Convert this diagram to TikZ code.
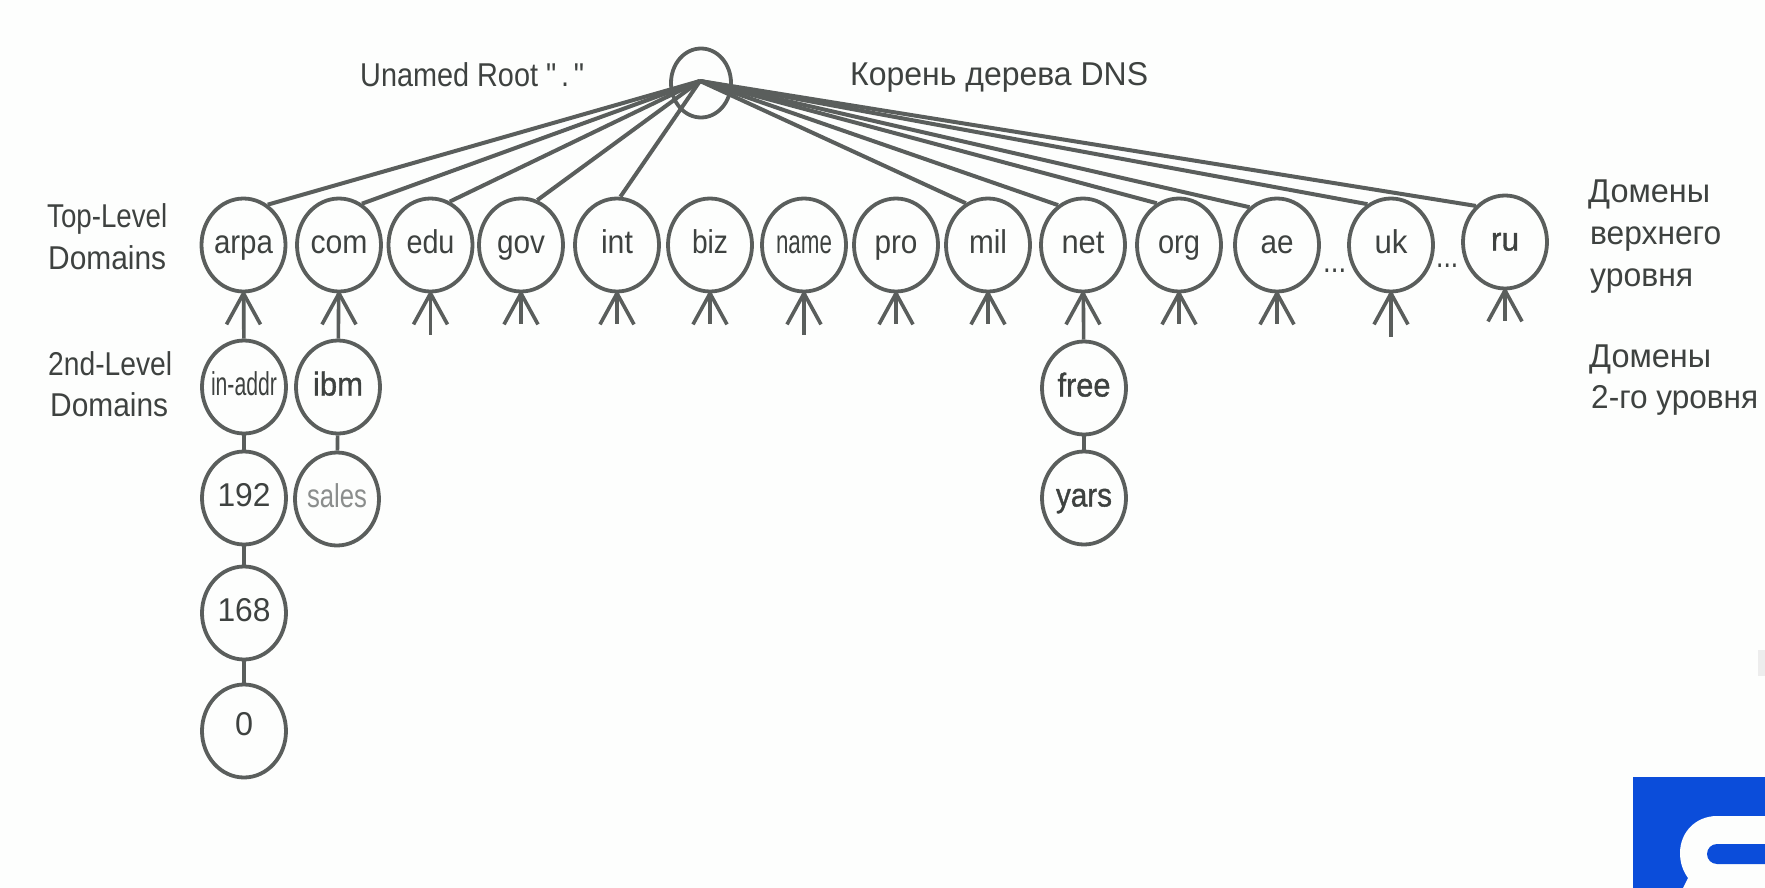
\documentclass[tikz,border=0pt]{standalone}
\usepackage{graphicx}
\usepackage{fontspec}
\setmainfont{Liberation Sans}
\newfontfamily\plainf{Liberation Sans}
\newfontfamily\medf[FakeBold=1.2]{Liberation Sans}
\usetikzlibrary{shapes.geometric}
\definecolor{ink}{HTML}{3E4240}
\definecolor{wire}{HTML}{5A5E5C}
\definecolor{paper}{HTML}{FDFEFD}
\definecolor{logoblue}{HTML}{0B4DDA}
\tikzset{
  dom/.style={ellipse,draw=wire,line width=3.8pt,minimum width=84pt,minimum height=93pt,inner sep=0pt,
     text=ink,font=\fontsize{33}{33}\selectfont,text height=17pt,text depth=0pt},
  wirel/.style={draw=wire,line width=3.6pt},
  fanl/.style={draw=wire,line width=4pt},
  lbl/.style={anchor=base west,inner sep=0pt,text=ink,font=\fontsize{33}{33}\selectfont},
}
\newcommand{\fit}[2]{\makebox[0pt]{\resizebox{#1pt}{\height}{#2}}}
\newcommand{\fitl}[2]{\resizebox{#1pt}{\height}{#2}}
\begin{document}
\begin{tikzpicture}[x=1pt,y=-1pt]
\useasboundingbox (0,0) rectangle (1765,888);
\fill[paper] (0,0) rectangle (1765,888);
% root
\node[dom,minimum width=60pt,minimum height=69pt] (root) at (701,83) {};
\coordinate (hub) at (700,81);
% top level
\node[dom] (arpa) at (243.5,245) {\fit{59}{arpa}};
\node[dom] (com) at (339,245) {\fit{57}{com}};
\node[dom] (edu) at (430.5,245) {\fit{48}{edu}};
\node[dom] (gov) at (521,245) {\fit{48}{gov}};
\node[dom] (int) at (617,245) {\fit{32}{int}};
\node[dom] (biz) at (710,245) {\fit{36}{biz}};
\node[dom] (name) at (804,245) {\fit{56}{name}};
\node[dom] (pro) at (896,245) {\fit{43}{pro}};
\node[dom] (mil) at (988,245) {\fit{38}{mil}};
\node[dom] (net) at (1083,245) {\fit{43}{net}};
\node[dom] (org) at (1179,245) {\fit{42}{org}};
\node[dom] (ae) at (1277,245) {\fit{33}{ae}};
\node[dom] (uk) at (1391,245) {\fit{33}{uk}};
\node[dom] (ru) at (1505,242) {\fit{28}{\medf ru}};
% lower levels
\node[dom] (inaddr) at (244,387) {\fit{66}{in-addr}};
\node[dom] (ibm) at (338,387) {\fit{50}{\medf ibm}};
\node[dom] (free) at (1084,388) {\fit{53}{\medf free}};
\node[dom] (n192) at (244,498) {\fit{53}{192}};
\node[dom,text=ink!60] (sales) at (337,499) {\fit{60}{sales}};
\node[dom] (yars) at (1084,498) {\fit{56}{\medf yars}};
\node[dom] (n168) at (244,613) {\fit{53}{168}};
\node[dom] (n0) at (244,731) {\fit{18}{\raisebox{4pt}{0}}};
% root fan
\foreach \n/\a in {arpa/59,com/61,edu/66,gov/70,int/86,mil/118,net/122,org/118,ae/126,uk/120,ru/129}
  \draw[fanl] (hub) -- (\n.\a);
% forks
\foreach \n in {arpa,com,edu,gov,int,biz,name,pro,mil,net,org,ae,uk,ru}{
  \draw[wirel] (\n.south) -- ++(-17,31);
  \draw[wirel] (\n.south) -- ++(17,31);
}
\foreach \n/\l in {edu/42,name/42,uk/44,gov/31,int/31,biz/31,pro/31,mil/31,org/31,ae/31,ru/31}
  \draw[wirel] (\n.south) -- ++(0,\l);
% vertical links
\draw[wirel] (inaddr) -- (arpa);
\draw[wirel] (ibm) -- (com);
\draw[wirel] (free) -- (net);
\draw[wirel] (n192) -- (inaddr);
\draw[wirel] (sales) -- (ibm);
\draw[wirel] (yars) -- (free);
\draw[wirel] (n168) -- (n192);
\draw[wirel] (n0) -- (n168);
% labels
\node[lbl] (lroot) at (360,87) {\fitl{224}{\plainf Unamed Root "\,.\,"}};
\node[lbl] (lrootru) at (850,86) {\fitl{298}{Корень дерева DNS}};
\node[lbl] (ltop1) at (47,227) {\fitl{120}{Top-Level}};
\node[lbl] (ltop2) at (48,269) {\fitl{118}{Domains}};
\node[lbl] (lsec1) at (48,375) {\fitl{124}{2nd-Level}};
\node[lbl] (lsec2) at (50,416) {\fitl{118}{Domains}};
\node[lbl] (ru1) at (1588,203) {\fitl{122}{Домены}};
\node[lbl] (ru2) at (1590,244) {\fitl{131}{верхнего}};
\node[lbl] (ru3) at (1590,286) {\fitl{103}{уровня}};
\node[lbl] (ru4) at (1589,367) {\fitl{122}{Домены}};
\node[lbl] (ru5) at (1591,408) {\fitl{167}{2-го уровня}};
\node[lbl] (dots1) at (1323,272) {\fitl{23}{...}};
\node[lbl] (dots2) at (1436,267) {\fitl{22}{...}};
% corner mark
\fill[logoblue] (1633,777) rectangle (1765,888);
\fill[paper] (1765,816) -- (1717,816) .. controls (1696,816) and (1680,832) .. (1680,853)
  .. controls (1680,863) and (1683,871) .. (1688,878) -- (1683,888) -- (1765,888) -- cycle;
\fill[logoblue] (1765,844) -- (1717,844) .. controls (1711.5,844) and (1707,848.5) .. (1707,854)
  .. controls (1707,859.5) and (1711.5,864) .. (1717,864) -- (1765,864) -- cycle;
\fill[black!7] (1758,650) rectangle (1765,676);
\end{tikzpicture}
\end{document}
